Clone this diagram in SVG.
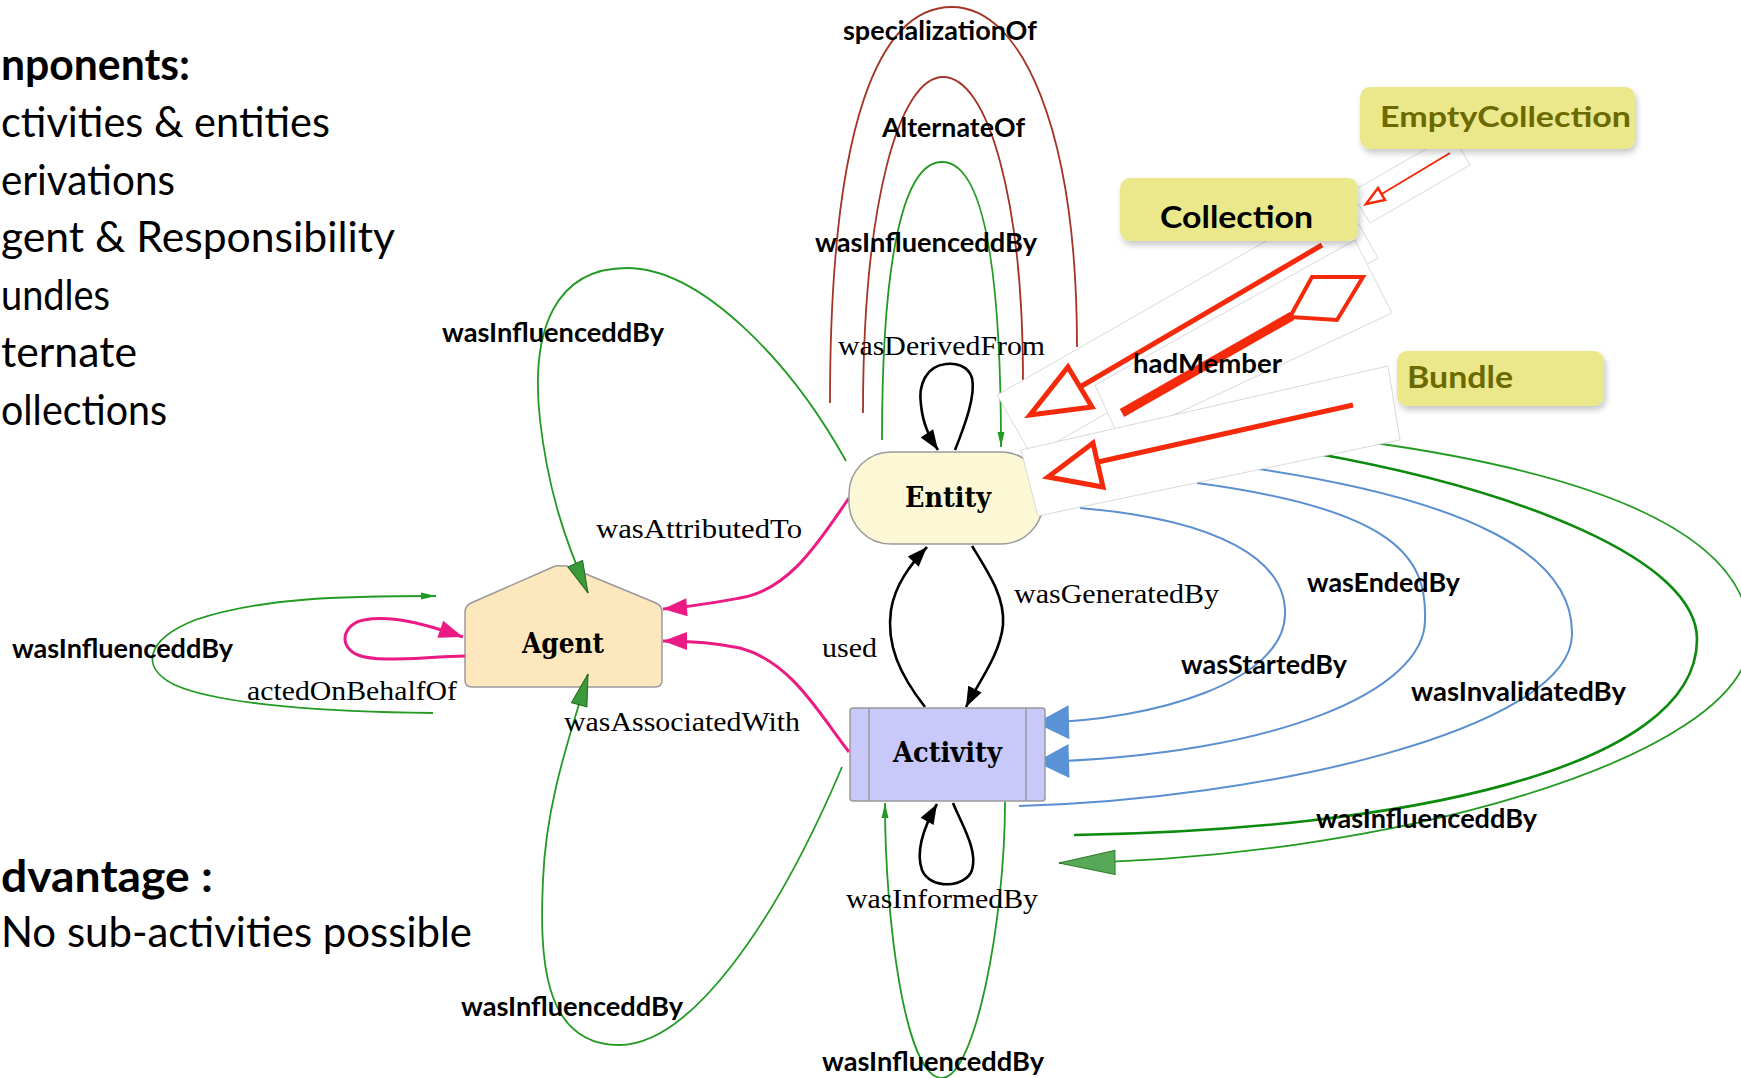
<svg xmlns="http://www.w3.org/2000/svg" width="1741" height="1078" viewBox="0 0 1741 1078">
<defs>
<style>
.big{font-family:Lato,"Open Sans","Liberation Sans",sans-serif;font-size:43px;fill:#000}
.bb{font-weight:bold}
.lbl{font-family:Lato,"Open Sans","Liberation Sans",sans-serif;font-weight:bold;font-size:26px;fill:#000}
.gv{font-family:"Liberation Serif","Times New Roman",serif;font-size:27px;fill:#000}
.nd{font-family:"DejaVu Serif","Liberation Serif",serif;font-weight:bold;font-size:27px;text-anchor:middle;fill:#000}
.coll{font-family:Lato,"Open Sans","Liberation Sans",sans-serif;font-weight:bold;font-size:30px}
.e{fill:none}
.blk{stroke:#000;stroke-width:2.6}
.pink{stroke:#ec1a83;stroke-width:3}
.grn{stroke:#239a23;stroke-width:1.8}
.dgrn{stroke:#0c8a0c;stroke-width:2.6}
.blu{stroke:#5b8fd0;stroke-width:2}
.brn{stroke:#a33428;stroke-width:1.8}
.paste{fill:#fff;stroke:#cfcfcf;stroke-width:0.8}
.red{fill:none;stroke:#f52a0a;stroke-width:5;stroke-linejoin:miter}
.redf{fill:#fff;stroke:#f52a0a;stroke-width:5;stroke-linejoin:miter}
.box{fill:#ebe88b;filter:url(#sh)}
.ol{fill:#6b6a00}
</style>
<filter id="sh" x="-10%" y="-20%" width="130%" height="150%">
<feDropShadow dx="2" dy="4" stdDeviation="3" flood-color="#000" flood-opacity="0.22"/>
</filter>
<marker id="aBlk" markerUnits="userSpaceOnUse" markerWidth="22" markerHeight="16" refX="20" refY="7.5" orient="auto" overflow="visible"><path d="M0,0 L20,7.5 L0,15 z" fill="#000"/></marker>
<marker id="aPink" markerUnits="userSpaceOnUse" markerWidth="26" markerHeight="20" refX="24" refY="9" orient="auto" overflow="visible"><path d="M0,0 L24,9 L0,18 z" fill="#ec1a83"/></marker>
<marker id="aBlue" markerUnits="userSpaceOnUse" markerWidth="35" markerHeight="36" refX="33" refY="17" orient="auto" overflow="visible"><path d="M0,0 L33,17 L0,34 z" fill="#5a92d6"/></marker>
<marker id="aGrnBig" markerUnits="userSpaceOnUse" markerWidth="58" markerHeight="26" refX="56" refY="12" orient="auto" overflow="visible"><path d="M0,0 L56,12 L0,24 z" fill="#57a957" stroke="#2d7d2d" stroke-width="1"/></marker>
<marker id="aGrnMed" markerUnits="userSpaceOnUse" markerWidth="34" markerHeight="18" refX="32" refY="8" orient="auto" overflow="visible"><path d="M0,0 L32,8 L0,16 z" fill="#3a9a3a" stroke="#226622" stroke-width="1"/></marker>
<marker id="aGrnThin" markerUnits="userSpaceOnUse" markerWidth="16" markerHeight="8" refX="15" refY="3.5" orient="auto" overflow="visible"><path d="M0,0 L15,3.5 L0,7 z" fill="#239a23"/></marker>
</defs>
<rect x="0" y="0" width="1741" height="1078" fill="#fff"/>

<g id="notes">
<text class="big bb" x="1" y="80" textLength="189" lengthAdjust="spacingAndGlyphs">nponents:</text>
<text class="big" x="1" y="137" textLength="329" lengthAdjust="spacingAndGlyphs">ctivities &amp; entities</text>
<text class="big" x="1" y="195" textLength="174" lengthAdjust="spacingAndGlyphs">erivations</text>
<text class="big" x="1" y="252" textLength="394" lengthAdjust="spacingAndGlyphs">gent &amp; Responsibility</text>
<text class="big" x="1" y="310" textLength="109" lengthAdjust="spacingAndGlyphs">undles</text>
<text class="big" x="1" y="367" textLength="136" lengthAdjust="spacingAndGlyphs">ternate</text>
<text class="big" x="1" y="425" textLength="166" lengthAdjust="spacingAndGlyphs">ollections</text>
<text class="big bb" x="1" y="892" textLength="212" lengthAdjust="spacingAndGlyphs">dvantage :</text>
<text class="big" x="1" y="947" textLength="471" lengthAdjust="spacingAndGlyphs">No sub-activities possible</text>
</g>

<g id="node-agent">
<path d="M 561 566 Q 565 565 569 567 L 656 603 Q 662 606 662 612 L 662 680 Q 662 687 655 687 L 472 687 Q 465 687 465 680 L 465 612 Q 465 606 471 603 L 553 567 Q 557 565 561 566 Z" fill="#fde8bd" stroke="#9a9a9a" stroke-width="1.5"/>
<text class="nd" x="563" y="653" textLength="82" lengthAdjust="spacingAndGlyphs">Agent</text>
</g>

<g id="connectors">
<path class="e brn" d="M 830 403 C 830 120, 880 7, 952 7 C 1022 7, 1077 130, 1077 347"/>
<path class="e brn" d="M 863 413 C 863 200, 900 77, 943 77 C 988 77, 1023 200, 1023 380"/>
<path class="e grn" d="M 882 440 C 882 250, 905 162, 942 162 C 980 162, 1001 250, 1001 447" marker-end="url(#aGrnThin)"/>
<path class="e blk" d="M 955 450 C 965 425, 976 395, 972 378 C 968 365, 955 363, 946 364 C 926 366, 918 385, 921 405 C 923 425, 930 438, 938 450" marker-end="url(#aBlk)"/>
<path class="e blk" d="M 925 707 C 900 675, 886 645, 891 610 C 895 585, 910 565, 927 547" marker-end="url(#aBlk)"/>
<path class="e blk" d="M 972 546 C 990 575, 1005 598, 1003 625 C 1000 655, 978 683, 966 707" marker-end="url(#aBlk)"/>
<path class="e blk" d="M 953 803 C 962 825, 978 850, 972 870 C 966 888, 930 890, 922 870 C 915 850, 925 825, 937 804" marker-end="url(#aBlk)"/>
<path class="e pink" d="M 849 498 C 820 540, 790 590, 740 598 C 712 603, 690 607, 663 609" marker-end="url(#aPink)"/>
<path class="e pink" d="M 849 752 C 820 715, 792 662, 740 648 C 712 642, 690 641, 663 641" marker-end="url(#aPink)"/>
<path class="e pink" d="M 465 656 C 420 657, 378 663, 358 655 C 338 647, 342 624, 364 620 C 392 615, 425 624, 463 637" marker-end="url(#aPink)"/>
<path class="e grn" d="M 846 461 C 790 360, 700 268, 627 268 C 555 268, 530 330, 540 420 C 548 490, 565 540, 588 593" marker-end="url(#aGrnMed)"/>
<path class="e grn" d="M 433 713 C 330 712, 220 705, 175 685 C 140 668, 145 640, 195 620 C 260 598, 340 596, 436 596" marker-end="url(#aGrnThin)"/>
<path class="e grn" d="M 842 767 C 775 925, 690 1045, 619 1045 C 540 1045, 540 950, 543 880 C 546 800, 572 730, 588 674" marker-end="url(#aGrnMed)"/>
<path class="e grn" d="M 1005 802 C 1005 920, 975 1078, 942 1078 C 905 1078, 885 920, 885 803" marker-end="url(#aGrnThin)"/>
<path class="e blu" d="M 1080 508 C 1220 520, 1287 560, 1285 615 C 1283 680, 1160 720, 1036 723" marker-end="url(#aBlue)"/>
<path class="e blu" d="M 1197 483 C 1400 510, 1427 560, 1425 620 C 1425 690, 1280 755, 1036 762" marker-end="url(#aBlue)"/>
<path class="e blu" d="M 1252 468 C 1470 500, 1574 555, 1572 635 C 1570 730, 1260 800, 1019 806"/>
<path class="e dgrn" d="M 1313 453 C 1520 490, 1698 560, 1697 640 C 1696 770, 1400 830, 1074 835"/>
<path class="e grn" d="M 1368 442 C 1640 480, 1752 550, 1750 640 C 1745 760, 1380 860, 1059 863" marker-end="url(#aGrnBig)"/>
</g>

<g id="node-entity">
<rect x="849" y="452" width="194" height="92" rx="42" fill="#fcf8d6" stroke="#9a9a9a" stroke-width="1.5"/>
<text class="nd" x="948" y="507" textLength="86" lengthAdjust="spacingAndGlyphs">Entity</text>
</g>
<g id="node-activity">
<rect x="850" y="708" width="195" height="93" rx="3" fill="#c8c8fa" stroke="#9a9a9a" stroke-width="1.5"/>
<line x1="869" y1="708" x2="869" y2="801" stroke="#9a9a9a" stroke-width="1.5"/>
<line x1="1026" y1="708" x2="1026" y2="801" stroke="#9a9a9a" stroke-width="1.5"/>
<text class="nd" x="947.5" y="762" textLength="109" lengthAdjust="spacingAndGlyphs">Activity</text>
</g>

<g id="collection-arrows">
<polygon class="paste" points="997,395 1343,197 1378,258 1032,456"/>
<polygon class="paste" points="1095,385 1355,240 1392,313 1120,440"/>
<polygon class="paste" points="1021,450 1388,366 1400,440 1038,516"/>
<polygon class="paste" points="1351,192 1452,134 1470,165 1370,223"/>
<line class="red" x1="1322" y1="245" x2="1080" y2="387"/>
<polygon class="redf" points="1068,367 1092,407 1030,415"/>
<line class="red" x1="1122" y1="413" x2="1292" y2="316" style="stroke-width:9"/>
<polygon class="redf" points="1290,317 1312,277 1363,277 1337,320" style="stroke-width:4"/>
<line class="red" x1="1353" y1="405" x2="1098" y2="462"/>
<polygon class="redf" points="1093,443 1103,487 1048,477"/>
<line x1="1450" y1="153" x2="1380" y2="195" stroke="#f52a0a" stroke-width="2"/>
<polygon points="1366,204 1378,188 1385,200" fill="#fff" stroke="#f52a0a" stroke-width="2.5"/>
</g>

<g id="node-emptycollection">
<rect class="box" x="1360" y="87" width="275" height="62" rx="10"/>
<text class="coll ol" x="1380" y="127" style="font-size:28px" textLength="251" lengthAdjust="spacingAndGlyphs">EmptyCollection</text>
</g>
<g id="node-collection">
<rect class="box" x="1120" y="178" width="238" height="63" rx="10"/>
<text class="coll" x="1160" y="228" textLength="153" lengthAdjust="spacingAndGlyphs">Collection</text>
</g>
<g id="node-bundle">
<rect class="box" x="1397" y="351" width="207" height="55" rx="10"/>
<text class="coll ol" x="1407" y="388" textLength="106" lengthAdjust="spacingAndGlyphs">Bundle</text>
</g>

<g id="edge-labels">
<text class="lbl" x="843" y="40" textLength="194" lengthAdjust="spacingAndGlyphs">specializationOf</text>
<text class="lbl" x="882" y="137" textLength="143" lengthAdjust="spacingAndGlyphs">AlternateOf</text>
<text class="lbl" x="815" y="252" textLength="222" lengthAdjust="spacingAndGlyphs">wasInfluenceddBy</text>
<text class="lbl" x="442" y="342" textLength="222" lengthAdjust="spacingAndGlyphs">wasInfluenceddBy</text>
<text class="lbl" x="12" y="658" textLength="221" lengthAdjust="spacingAndGlyphs">wasInfluenceddBy</text>
<text class="lbl" x="461" y="1016" textLength="222" lengthAdjust="spacingAndGlyphs">wasInfluenceddBy</text>
<text class="lbl" x="822" y="1071" textLength="222" lengthAdjust="spacingAndGlyphs">wasInfluenceddBy</text>
<text class="lbl" x="1316" y="828" textLength="221" lengthAdjust="spacingAndGlyphs">wasInfluenceddBy</text>
<text class="lbl" x="1307" y="592" textLength="153" lengthAdjust="spacingAndGlyphs">wasEndedBy</text>
<text class="lbl" x="1181" y="674" textLength="166" lengthAdjust="spacingAndGlyphs">wasStartedBy</text>
<text class="lbl" x="1411" y="701" textLength="215" lengthAdjust="spacingAndGlyphs">wasInvalidatedBy</text>
<text class="lbl" x="1133" y="373" textLength="149" lengthAdjust="spacingAndGlyphs">hadMember</text>
<text class="gv" x="838" y="355" textLength="207" lengthAdjust="spacingAndGlyphs">wasDerivedFrom</text>
<text class="gv" x="596" y="538" textLength="206" lengthAdjust="spacingAndGlyphs">wasAttributedTo</text>
<text class="gv" x="564" y="731" textLength="236" lengthAdjust="spacingAndGlyphs">wasAssociatedWith</text>
<text class="gv" x="247" y="700" textLength="210" lengthAdjust="spacingAndGlyphs">actedOnBehalfOf</text>
<text class="gv" x="822" y="657" textLength="55" lengthAdjust="spacingAndGlyphs">used</text>
<text class="gv" x="1014" y="603" textLength="205" lengthAdjust="spacingAndGlyphs">wasGeneratedBy</text>
<text class="gv" x="846" y="908" textLength="192" lengthAdjust="spacingAndGlyphs">wasInformedBy</text>
</g>
</svg>
